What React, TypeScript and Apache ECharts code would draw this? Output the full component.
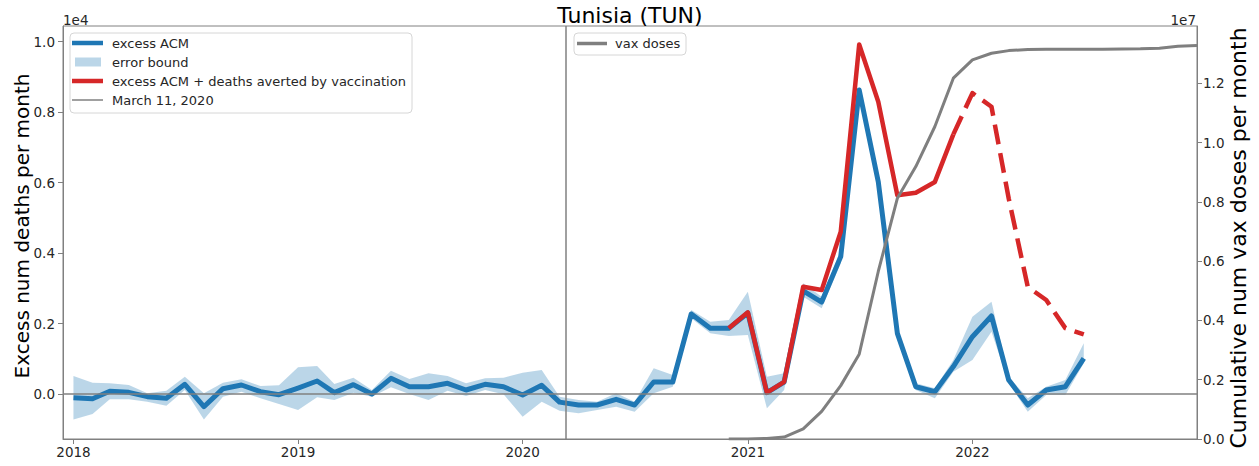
import React, { useEffect, useRef } from 'react';
import * as echarts from 'echarts';

// ---------- data ----------
const acmStart = '2018-01';
const excessACM = [
  -105, -133, 77, 48, -76, -123, 275, -360, 151, 256, 66, -19,
  170, 369, 38, 265, 0, 445, 208, 208, 303, 114, 275, 208,
  -28, 246, -230, -312, -312, -151, -312, 341, 341, 2271, 1864, 1864,
  2300, 38, 340, 2930, 2610, 3900, 8630, 6026, 1723, 207, 65, 780,
  1627, 2214, 397, -312, 114, 207, 1013,
];
const lowerBound = [
  -720, -568, -151, -151, -218, -332, 114, -720, -76, 66, -123, -284,
  -454, -95, -170, 38, -76, 189, 0, -170, 94, -57, 114, -10,
  -644, -218, -473, -549, -454, -360, -502, 19, 208, 2148, 1723, 1646,
  1675, -407, 114, 2762, 2432, 3710, 8439, 5884, 1627, 114, -123, 634,
  965, 1768, 303, -502, -28, -28, 871,
];
const upperBound = [
  511, 322, 303, 256, 19, 94, 492, 19, 322, 417, 227, 246,
  757, 795, 284, 464, 114, 663, 426, 587, 511, 303, 445, 460,
  606, 681, -80, -170, -218, 19, -218, 729, 539, 2384, 2053, 2100,
  2905, 492, 587, 3142, 2762, 4087, 8723, 6168, 1817, 303, 161, 965,
  2195, 2621, 492, -123, 207, 397, 1439,
];
const avertedStart = '2020-12';
const acmPlusAverted = [1864, 2318, 38, 345, 3047, 2950, 4607, 9920, 8297, 5640, 5714, 6020, 7370];
const projectedStart = '2021-12';
const acmPlusAvertedProjected = [7370, 8540, 8155, 5550, 3040, 2668, 1870, 1690];
const vaxStart = '2020-12';
const vaxDoses = [
  0, 0, 20000, 67000, 340000, 930000, 1800000, 2860000, 5650000, 8120000, 9190000, 10540000,
  12170000, 12790000, 13010000, 13100000, 13140000, 13150000, 13150000, 13150000, 13150000,
  13155000, 13160000, 13180000, 13250000, 13270000,
];
const yearTicks = ['2018', '2019', '2020', '2021', '2022'];
const leftTicks = [0, 2000, 4000, 6000, 8000, 10000];
const rightTicks = [0, 2e6, 4e6, 6e6, 8e6, 10e6, 12e6];
const pandemicDate = '2020-03-11';

// ---------- helpers ----------
function monthTs(start: string, i: number) {
  const [y, m] = start.split('-').map(Number);
  return Date.UTC(y, m - 1 + i, 1);
}
function dayTs(s: string) {
  const [y, m, d] = s.split('-').map(Number);
  return Date.UTC(y, m - 1, d);
}
const FONT = 'DejaVu Sans';
const TXT = '#262626';
const SPINE = '#808080';

export default function App() {
  const ref = useRef<HTMLDivElement>(null);
  useEffect(() => {
    if (!ref.current) return;
    const chart = echarts.init(ref.current, undefined, { renderer: 'svg' });

    const acmData = excessACM.map((v, i) => [monthTs(acmStart, i), v]);
    const bandData = excessACM.map((_, i) => [monthTs(acmStart, i), lowerBound[i], upperBound[i]]);
    const redSolid = acmPlusAverted.map((v, i) => [monthTs(avertedStart, i), v]);
    const redDash = acmPlusAvertedProjected.map((v, i) => [monthTs(projectedStart, i), v]);
    const vaxData = vaxDoses.map((v, i) => [monthTs(vaxStart, i), v]);
    const yearTs = yearTicks.map((y) => Date.UTC(Number(y), 0, 1));

    const legendLeft = [
      { type: 'rect', shape: { x: 70, y: 33, width: 342, height: 80, r: 4 }, style: { fill: 'rgba(255,255,255,0.85)', stroke: '#d6d6d6', lineWidth: 1 }, z: 100 },
      { type: 'line', shape: { x1: 72, y1: 43, x2: 103, y2: 43 }, style: { stroke: '#1f77b4', lineWidth: 4.5 }, z: 101 },
      { type: 'rect', shape: { x: 75, y: 57.5, width: 26, height: 9 }, style: { fill: 'rgba(31,119,180,0.3)' }, z: 101 },
      { type: 'line', shape: { x1: 72, y1: 81, x2: 103, y2: 81 }, style: { stroke: '#d62728', lineWidth: 4.5 }, z: 101 },
      { type: 'line', shape: { x1: 72, y1: 100, x2: 103, y2: 100 }, style: { stroke: SPINE, lineWidth: 1.5 }, z: 101 },
      ...['excess ACM', 'error bound', 'excess ACM + deaths averted by vaccination', 'March 11, 2020'].map((t, i) => ({
        type: 'text', x: 112, y: 43 + i * 19, z: 101,
        style: { text: t, fill: TXT, font: `13px "${FONT}"`, verticalAlign: 'middle', align: 'left' },
      })),
    ];
    const legendRight = [
      { type: 'rect', shape: { x: 574, y: 33, width: 112, height: 22, r: 4 }, style: { fill: 'rgba(255,255,255,0.85)', stroke: '#d6d6d6', lineWidth: 1 }, z: 100 },
      { type: 'line', shape: { x1: 577, y1: 43.5, x2: 607, y2: 43.5 }, style: { stroke: '#7f7f7f', lineWidth: 3.5 }, z: 101 },
      { type: 'text', x: 615, y: 43.5, z: 101, style: { text: 'vax doses', fill: TXT, font: `13px "${FONT}"`, verticalAlign: 'middle', align: 'left' } },
    ];

    chart.setOption({
      animation: false,
      textStyle: { fontFamily: FONT },
      grid: { left: 63, right: 62, top: 26, bottom: 27, show: true, borderColor: SPINE, borderWidth: 1, backgroundColor: 'transparent' },
      xAxis: {
        type: 'value',
        min: dayTs('2017-12-15'),
        max: dayTs('2023-01-01'),
        axisLine: { show: true, onZero: false, lineStyle: { color: SPINE, width: 1 } },
        axisTick: { show: true, customValues: yearTs, length: 5, lineStyle: { color: SPINE } },
        axisLabel: {
          customValues: yearTs, color: TXT, fontSize: 13.5, margin: 6,
          formatter: (v: number) => String(new Date(v).getUTCFullYear()),
        },
        splitLine: { show: false },
      },
      yAxis: [
        {
          type: 'value', min: -1277, max: 10446, position: 'left',
          axisLine: { show: true, onZero: false, lineStyle: { color: SPINE, width: 1 } },
          axisTick: { show: true, customValues: leftTicks, length: 5, lineStyle: { color: SPINE } },
          axisLabel: { customValues: leftTicks, color: TXT, fontSize: 13.5, margin: 8, formatter: (v: number) => (v / 10000).toFixed(1) },
          splitLine: { show: false },
        },
        {
          type: 'value', min: 0, max: 13930000, position: 'right',
          axisLine: { show: true, onZero: false, lineStyle: { color: SPINE, width: 1 } },
          axisTick: { show: true, customValues: rightTicks, length: 5, lineStyle: { color: SPINE } },
          axisLabel: { customValues: rightTicks, color: TXT, fontSize: 13.5, margin: 6, formatter: (v: number) => (v / 1e7).toFixed(1) },
          splitLine: { show: false },
        },
      ],
      series: [
        {
          name: 'error bound', type: 'custom', coordinateSystem: 'cartesian2d', xAxisIndex: 0, yAxisIndex: 0,
          data: bandData, encode: { x: 0, y: [1, 2] }, silent: true, z: 1,
          renderItem: (params: any, api: any) => {
            if (params.dataIndex !== 0) return null;
            const pts: number[][] = [];
            for (let i = 0; i < bandData.length; i++) pts.push(api.coord([bandData[i][0], bandData[i][2]]));
            for (let i = bandData.length - 1; i >= 0; i--) pts.push(api.coord([bandData[i][0], bandData[i][1]]));
            return { type: 'polygon', shape: { points: pts }, style: { fill: 'rgba(31,119,180,0.3)', stroke: 'none' } };
          },
        },
        {
          name: 'excess ACM', type: 'line', data: acmData, showSymbol: false, symbol: 'none', z: 3, silent: true,
          lineStyle: { color: '#1f77b4', width: 5, join: 'round', cap: 'butt' },
          markLine: {
            silent: true, symbol: ['none', 'none'], label: { show: false },
            lineStyle: { color: SPINE, width: 1.5, type: 'solid' },
            data: [{ yAxis: 0 }, { xAxis: dayTs(pandemicDate) }],
          },
        },
        {
          name: 'excess ACM + deaths averted by vaccination', type: 'line', data: redSolid, showSymbol: false, symbol: 'none', z: 4, silent: true,
          lineStyle: { color: '#d62728', width: 4.5, join: 'round' },
        },
        {
          name: 'excess ACM + deaths averted (projected)', type: 'line', data: redDash, showSymbol: false, symbol: 'none', z: 4, silent: true,
          lineStyle: { color: '#d62728', width: 4.5, type: [20, 9], cap: 'butt', join: 'round' },
        },
        {
          name: 'vax doses', type: 'line', yAxisIndex: 1, data: vaxData, showSymbol: false, symbol: 'none', z: 5, silent: true,
          lineStyle: { color: '#7f7f7f', width: 3, join: 'round' },
        },
      ],
      graphic: [
        { type: 'text', x: 630, y: 15, style: { text: 'Tunisia (TUN)', fill: '#000', font: `22px "${FONT}"`, align: 'center', verticalAlign: 'middle' } },
        { type: 'text', x: 63, y: 20, style: { text: '1e4', fill: TXT, font: `13.5px "${FONT}"`, align: 'left', verticalAlign: 'middle' } },
        { type: 'text', x: 1196, y: 20, style: { text: '1e7', fill: TXT, font: `13.5px "${FONT}"`, align: 'right', verticalAlign: 'middle' } },
        { type: 'text', x: 22, y: 226, rotation: Math.PI / 2, style: { text: 'Excess num deaths per month', fill: '#000', font: `20px "${FONT}"`, align: 'center', verticalAlign: 'middle' } },
        { type: 'text', x: 1238, y: 238, rotation: Math.PI / 2, style: { text: 'Cumulative num vax doses per month', fill: '#000', font: `22px "${FONT}"`, align: 'center', verticalAlign: 'middle' } },
        ...legendLeft,
        ...legendRight,
      ],
    });
    return () => chart.dispose();
  }, []);
  return <div ref={ref} style={{ position: 'absolute', left: 0, top: 0, width: 1259, height: 466 }} />;
}
